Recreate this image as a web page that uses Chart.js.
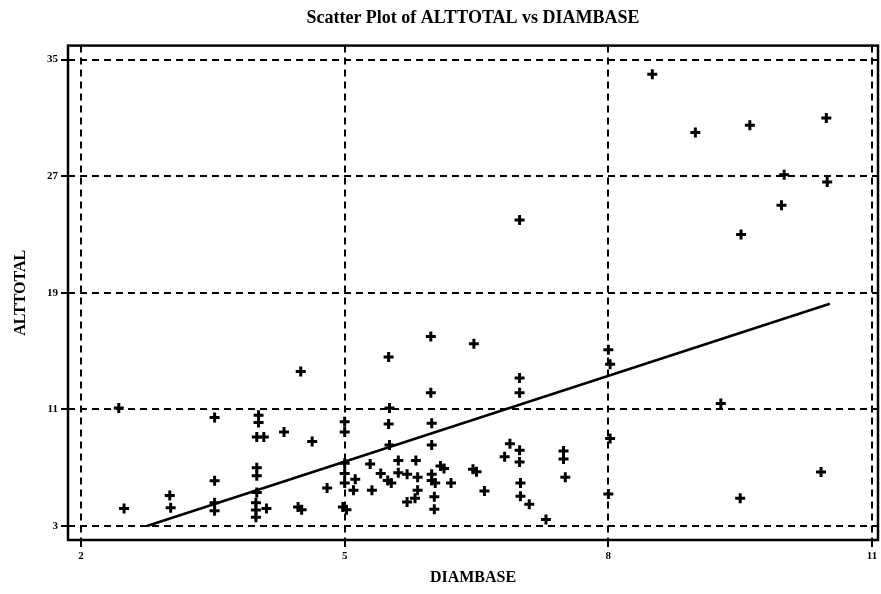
<!DOCTYPE html>
<html>
<head>
<meta charset="utf-8">
<title>Scatter Plot of ALTTOTAL vs DIAMBASE</title>
<script src="https://cdn.jsdelivr.net/npm/chart.js@4.4.1/dist/chart.umd.min.js"></script>
<style>
  html, body { margin: 0; padding: 0; background: #fff; }
  #wrap { width: 881px; height: 594px; }
</style>
</head>
<body>
<div id="wrap"><canvas id="scatterChart" width="881" height="594"></canvas></div>
<script>
// Data
const diamBase = [
  2.43, 2.49, 3.01, 3.02, 3.52, 3.52, 3.52, 3.52,
  4.02, 4.02, 4.00, 4.08, 4.31, 4.63, 4.00, 4.00, 4.00, 3.99, 3.99, 3.99, 4.11, 4.47, 4.51, 4.80, 4.50,
  5.00, 5.00, 5.00, 5.00, 5.00, 4.98, 5.02, 5.12, 5.10, 5.29, 5.31, 5.41, 5.49, 5.53,
  5.50, 5.51, 5.50, 5.51, 5.61, 5.61, 5.71, 5.81, 5.83, 5.83, 5.80, 5.71,
  5.98, 5.98, 5.99, 5.99, 5.99, 5.99, 6.03, 6.02, 6.02, 6.09, 6.13, 6.21, 6.46, 6.50, 6.47, 6.59,
  6.88, 6.82, 6.99, 6.99, 7.00, 7.00, 7.10, 7.29, 6.99, 6.99, 6.99, 7.49, 7.49, 7.51,
  8.00, 8.02, 8.02, 8.00,
  8.50, 8.99, 9.61, 10.48, 10.00, 10.49, 9.97, 9.51, 9.28, 9.50, 10.42
];
const altTotal = [
  11.1, 4.2, 5.1, 4.25, 10.45, 6.1, 4.6, 4.05,
  10.6, 10.1, 9.1, 9.1, 9.45, 8.8, 7.0, 6.45, 5.3, 4.6, 4.1, 3.6, 4.2, 4.3, 4.12, 5.6, 13.6,
  10.15, 9.45, 7.3, 6.6, 5.95, 4.3, 4.12, 6.2, 5.45, 7.25, 5.45, 6.6, 6.12, 5.95,
  14.6, 11.1, 10.0, 8.55, 7.5, 6.65, 6.55, 7.5, 6.35, 5.45, 4.9, 4.65,
  16.0, 12.15, 10.05, 8.55, 6.55, 6.12, 5.95, 5.0, 4.15, 7.12, 6.95, 5.95, 6.9, 6.72, 15.5, 5.4,
  8.65, 7.75, 8.2, 7.4, 5.95, 5.05, 4.5, 3.45, 13.15, 12.15, 24.0, 8.15, 7.6, 6.35,
  15.1, 14.1, 9.0, 5.2,
  34.0, 30.0, 30.5, 31.0, 27.1, 26.6, 25.0, 23.0, 11.4, 4.9, 6.7
];
// fitted line end points
const fitX = [2.75, 10.52];
const fitY = [3.0, 18.25];
// axis ticks
const xTicks = [2, 5, 8, 11];
const yTicks = [3, 11, 19, 27, 35];

const serif = "'Liberation Serif', 'DejaVu Serif', serif";

// full box round the plot area
const framePlugin = {
  id: 'frame',
  beforeDatasetsDraw(chart) {
    const { ctx, chartArea: a } = chart;
    ctx.save();
    ctx.strokeStyle = '#000';
    ctx.lineWidth = 2.5;
    ctx.strokeRect(a.left, a.top, a.right - a.left, a.bottom - a.top);
    ctx.restore();
  }
};

const gridOpts = {
  color: '#000',
  lineWidth: 2,
  tickLength: 7,
  tickColor: '#000',
  tickWidth: 2,
  tickBorderDash: []
};
const tickFont = { family: serif, size: 11, weight: 'bold' };
const axisFont = { family: serif, size: 16, weight: 'bold' };

new Chart(document.getElementById('scatterChart'), {
  type: 'scatter',
  data: {
    datasets: [
      {
        label: 'ALTTOTAL',
        data: diamBase.map((x, i) => ({ x: x, y: altTotal[i] })),
        pointStyle: 'cross',
        pointRadius: 5,
        pointBorderWidth: 3,
        borderColor: '#000',
        backgroundColor: '#000'
      },
      {
        label: 'Fit',
        data: fitX.map((x, i) => ({ x: x, y: fitY[i] })),
        showLine: true,
        pointRadius: 0,
        borderColor: '#000',
        borderWidth: 2.5
      }
    ]
  },
  options: {
    responsive: false,
    animation: false,
    layout: { autoPadding: false, padding: { left: 0, right: 3, top: 0, bottom: 0 } },
    plugins: {
      legend: { display: false },
      tooltip: { enabled: false },
      title: {
        display: true,
        text: 'Scatter Plot of ALTTOTAL vs DIAMBASE',
        fullSize: false,
        color: '#000',
        font: { family: serif, size: 18, weight: 'bold' },
        padding: { top: 8, bottom: 16 }
      }
    },
    scales: {
      x: {
        type: 'linear',
        min: 1.852,
        max: 11.068,
        afterBuildTicks: s => { s.ticks = xTicks.map(v => ({ value: v })); },
        afterFit: s => { s.height = 54; },
        grid: gridOpts,
        border: { display: false, dash: [7, 5] },
        ticks: { color: '#000', font: tickFont, padding: 3, autoSkip: false, maxRotation: 0 },
        title: { display: true, text: 'DIAMBASE', color: '#000', font: axisFont, padding: { top: 0, bottom: 7 } }
      },
      y: {
        type: 'linear',
        min: 2.04,
        max: 35.96,
        afterBuildTicks: s => { s.ticks = yTicks.map(v => ({ value: v })); },
        afterFit: s => { s.width = 68; },
        grid: gridOpts,
        border: { display: false, dash: [7, 5] },
        ticks: { color: '#000', font: tickFont, padding: 3, autoSkip: false },
        title: { display: true, text: 'ALTTOTAL', color: '#000', font: axisFont, padding: { top: 11, bottom: 0 } }
      }
    }
  },
  plugins: [framePlugin]
});
</script>
</body>
</html>
